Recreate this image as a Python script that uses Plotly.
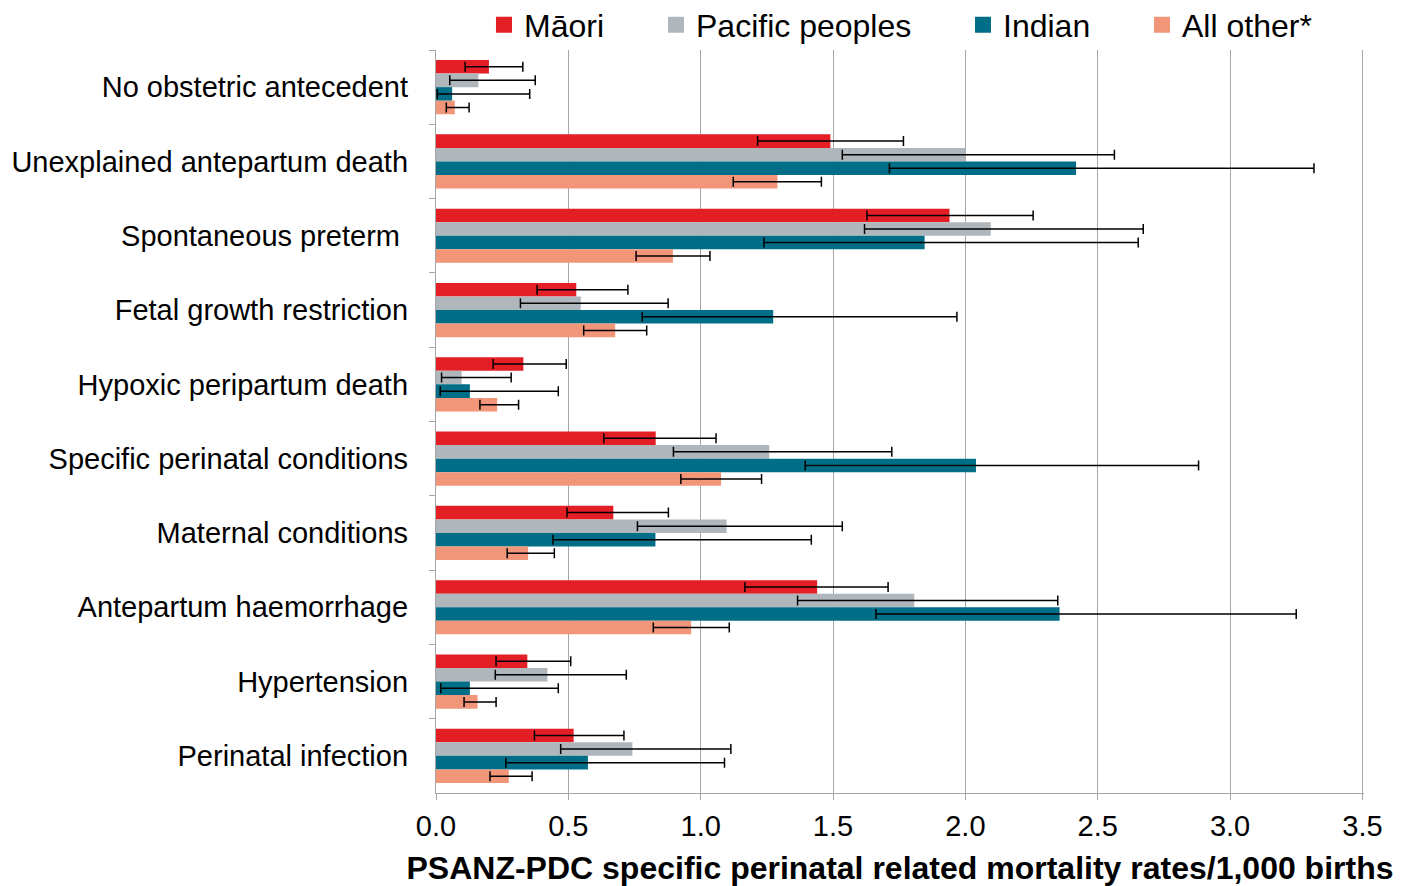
import plotly.graph_objects as go

categories = [
    "No obstetric antecedent",
    "Unexplained antepartum death",
    "Spontaneous preterm\u00a0",
    "Fetal growth restriction",
    "Hypoxic peripartum death",
    "Specific perinatal conditions",
    "Maternal conditions",
    "Antepartum haemorrhage",
    "Hypertension",
    "Perinatal infection",
]

series_names = ["Māori", "Pacific peoples", "Indian", "All other*"]

maori = [0.20, 1.49, 1.94, 0.53, 0.33, 0.83, 0.67, 1.44, 0.345, 0.52]
maori_lo = [0.11, 1.215, 1.628, 0.382, 0.216, 0.634, 0.495, 1.167, 0.227, 0.372]
maori_hi = [0.328, 1.766, 2.256, 0.725, 0.492, 1.058, 0.878, 1.708, 0.509, 0.710]

pacific = [0.16, 2.00, 2.096, 0.547, 0.097, 1.259, 1.098, 1.807, 0.421, 0.742]
pacific_lo = [0.052, 1.535, 1.619, 0.319, 0.021, 0.897, 0.761, 1.366, 0.224, 0.471]
pacific_hi = [0.375, 2.563, 2.672, 0.877, 0.284, 1.722, 1.535, 2.349, 0.719, 1.114]

indian = [0.061, 2.418, 1.846, 1.274, 0.128, 2.040, 0.829, 2.356, 0.128, 0.574]
indian_lo = [0.005, 1.713, 1.239, 0.779, 0.016, 1.395, 0.442, 1.662, 0.018, 0.264]
indian_hi = [0.354, 3.317, 2.653, 1.968, 0.462, 2.881, 1.418, 3.25, 0.462, 1.09]

other = [0.071, 1.29, 0.895, 0.677, 0.231, 1.077, 0.348, 0.964, 0.157, 0.275]
other_lo = [0.039, 1.123, 0.756, 0.558, 0.166, 0.925, 0.269, 0.821, 0.106, 0.204]
other_hi = [0.125, 1.456, 1.035, 0.796, 0.312, 1.23, 0.447, 1.108, 0.227, 0.363]

x_tickvals = [0, 0.5, 1, 1.5, 2, 2.5, 3, 3.5]
x_ticktext = ["0.0", "0.5", "1.0", "1.5", "2.0", "2.5", "3.0", "3.5"]

colors = ["#E31E24", "#B0B7BC", "#006E86", "#F2967A"]
values = [maori, pacific, indian, other]
lows = [maori_lo, pacific_lo, indian_lo, other_lo]
highs = [maori_hi, pacific_hi, indian_hi, other_hi]
legend_ids = ["legend", "legend2", "legend3", "legend4"]
legend_x = [0.0517, 0.2371, 0.5679, 0.7608]

FONT = "Liberation Sans, Arial, sans-serif"

fig = go.Figure()
for name, vals, lo, hi, col in zip(series_names, values, lows, highs, colors):
    fig.add_trace(go.Bar(
        name=name,
        y=categories,
        x=vals,
        orientation="h",
        marker=dict(color=col, line=dict(width=0)),
        error_x=dict(
            type="data",
            symmetric=False,
            array=[h - v for h, v in zip(hi, vals)],
            arrayminus=[v - l for v, l in zip(vals, lo)],
            color="#000000",
            thickness=1.5,
            width=5,
        ),
        showlegend=False,
    ))

# legend-only square markers (bigger than the default bar legend swatch)
for name, col, lid in zip(series_names, colors, legend_ids):
    fig.add_trace(go.Scatter(
        name=name,
        x=[None],
        y=[None],
        mode="markers",
        marker=dict(symbol="square", size=17, color=col),
        legend=lid,
        showlegend=True,
    ))

layout_legends = {}
for lid, lx in zip(legend_ids, legend_x):
    layout_legends[lid] = dict(
        x=lx, xanchor="left", y=1.0336, yanchor="middle",
        orientation="h",
        font=dict(family=FONT, size=32, color="#000000"),
        bgcolor="rgba(0,0,0,0)",
        borderwidth=0,
        itemwidth=30,
    )

fig.update_layout(
    width=1410,
    height=886,
    margin=dict(l=428, r=54, t=42, b=101, autoexpand=False),
    paper_bgcolor="white",
    plot_bgcolor="white",
    barmode="group",
    bargap=0.27,
    bargroupgap=0,
    showlegend=True,
    font=dict(family=FONT, size=29, color="#000000"),
    **layout_legends,
)

fig.update_xaxes(
    range=[0, 3.506],
    tickvals=x_tickvals,
    ticktext=x_ticktext,
    showgrid=True,
    gridcolor="#A6A6A6",
    gridwidth=1.3,
    zeroline=False,
    showline=True,
    linecolor="#A6A6A6",
    linewidth=1.3,
    ticks="outside",
    ticklen=6,
    tickcolor="#A6A6A6",
    tickfont=dict(family=FONT, size=29, color="#000000"),
    ticklabelstandoff=1,
    automargin=False,
    title=dict(
        text="<b>PSANZ-PDC specific perinatal related mortality rates/1,000 births</b>",
        font=dict(family=FONT, size=32, color="#000000"),
        standoff=15,
    ),
)

fig.update_yaxes(
    type="category",
    categoryorder="array",
    categoryarray=categories,
    autorange="reversed",
    showgrid=False,
    zeroline=False,
    showline=True,
    linecolor="#A6A6A6",
    linewidth=1.3,
    ticks="outside",
    tickson="boundaries",
    ticklen=6,
    tickcolor="#A6A6A6",
    tickfont=dict(family=FONT, size=29, color="#000000"),
    ticklabelstandoff=21,
    automargin=False,
)

fig.write_html("out.html")
